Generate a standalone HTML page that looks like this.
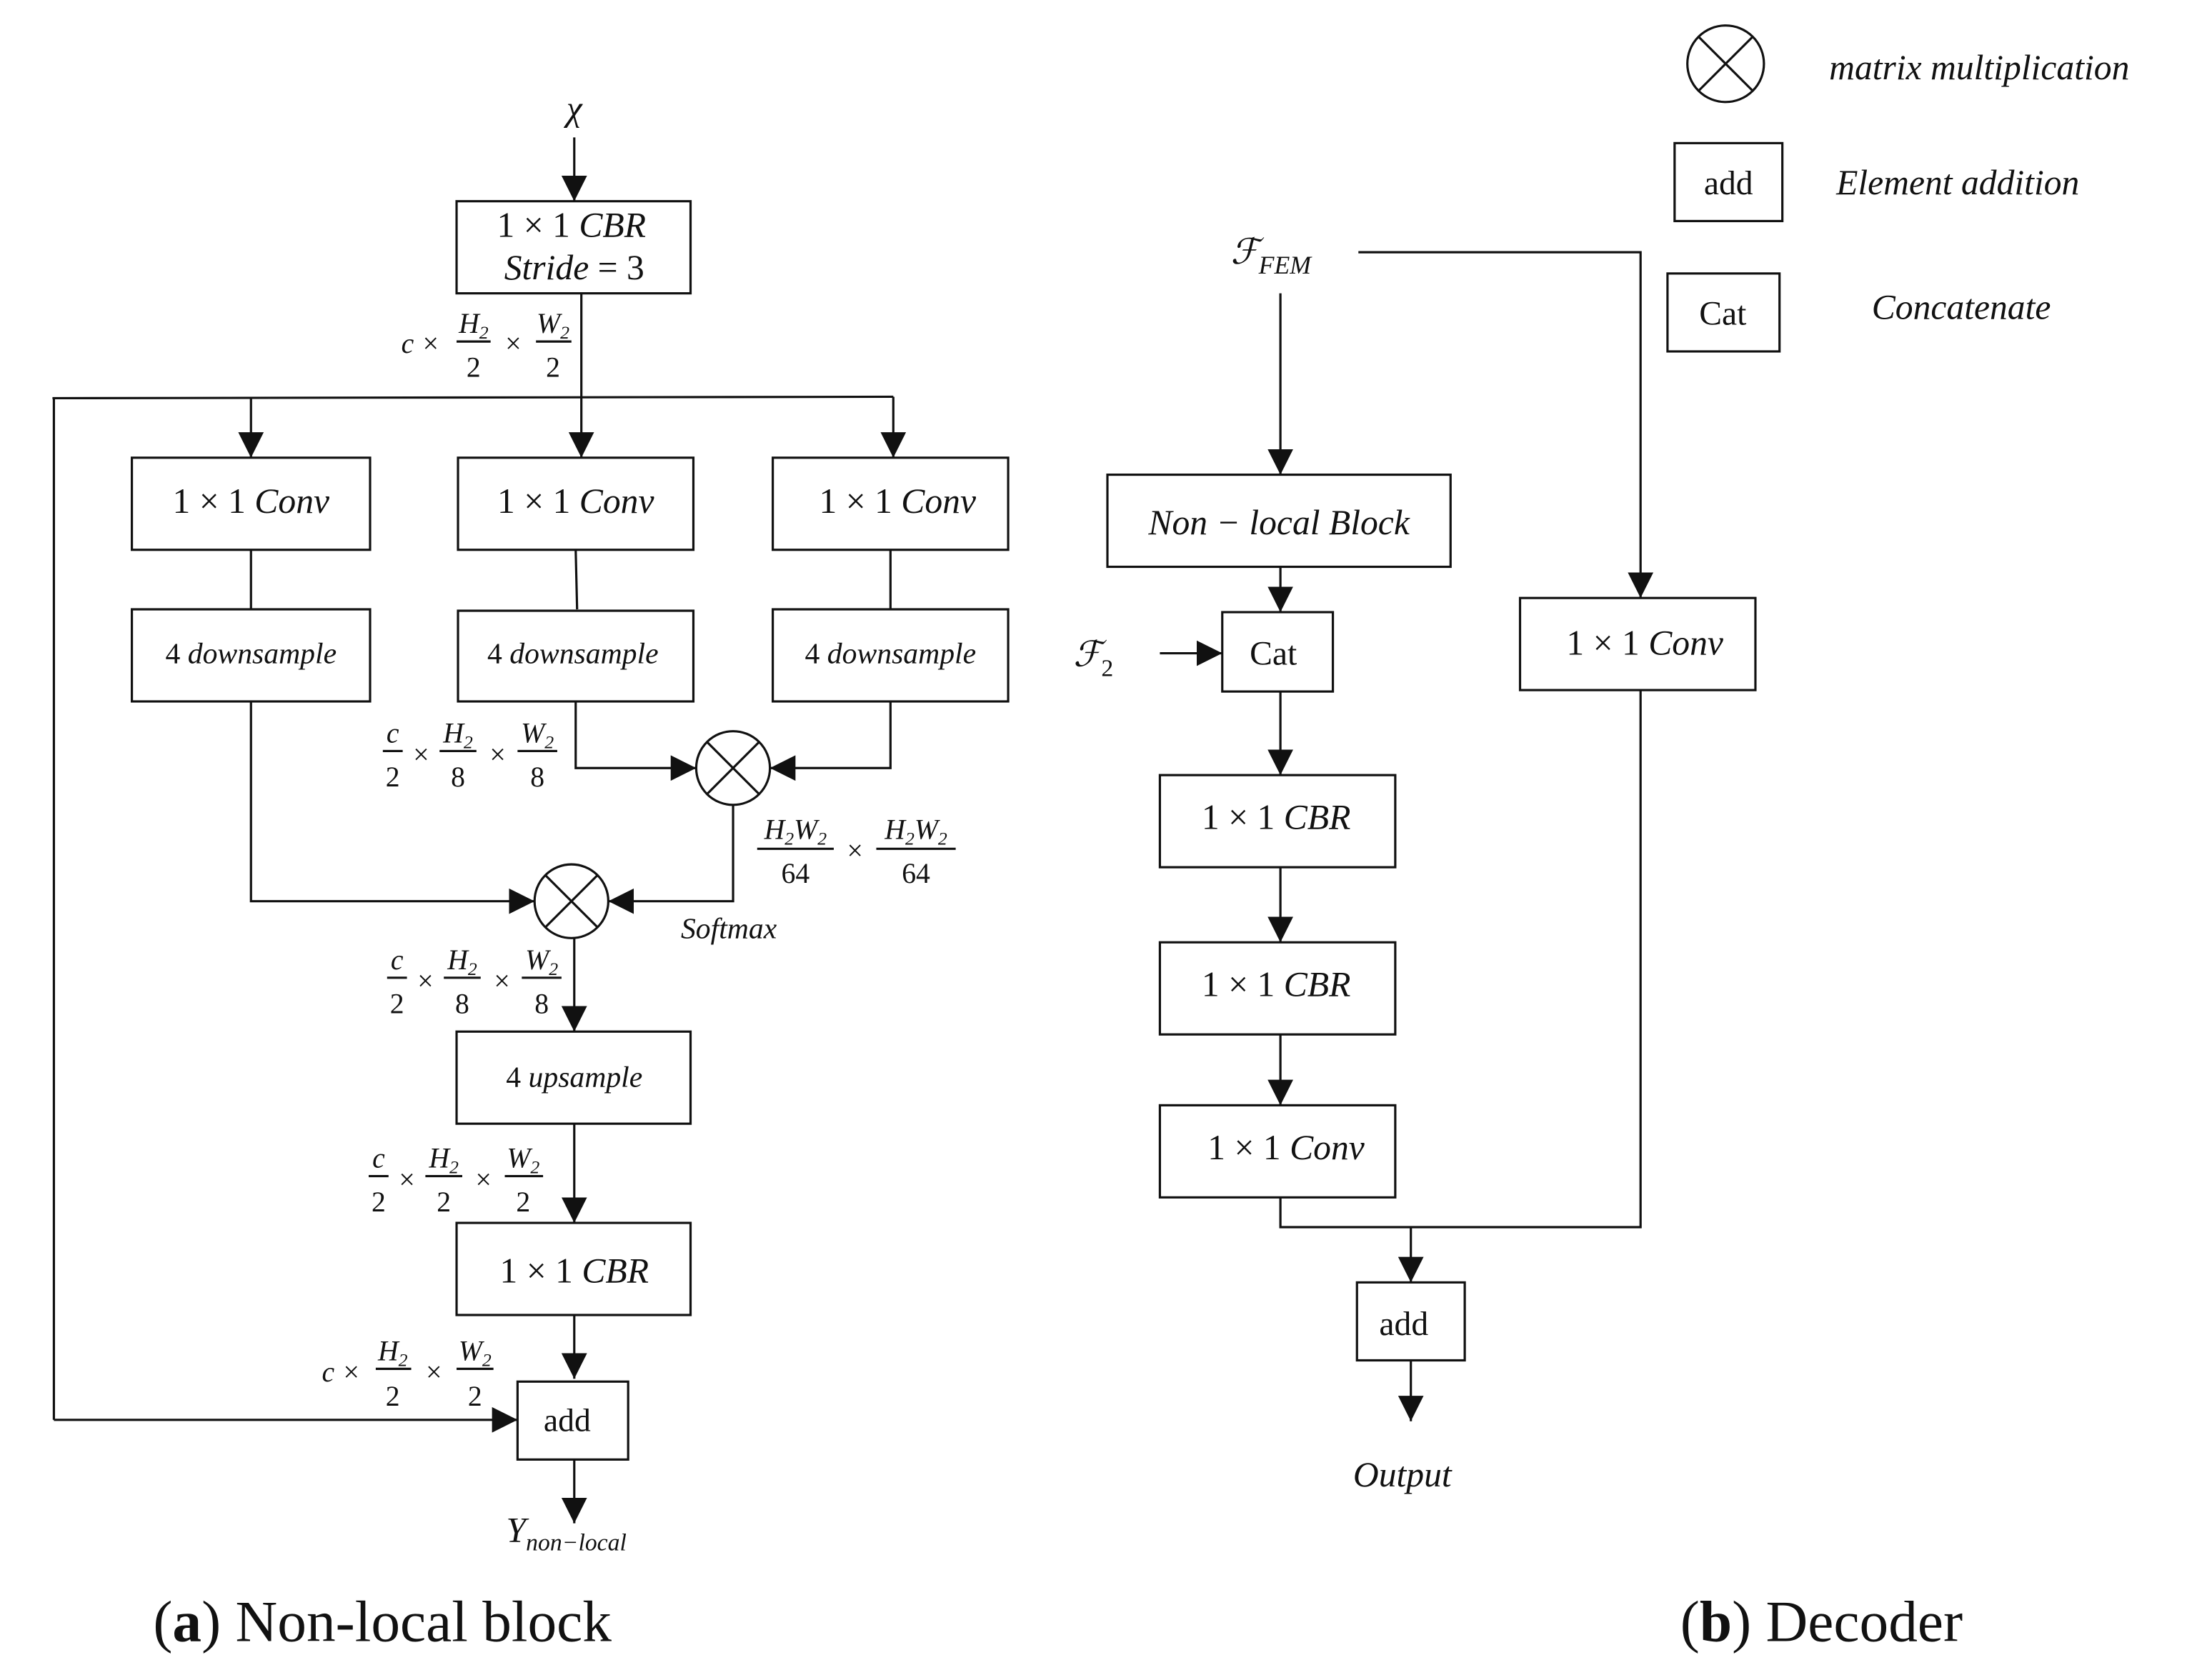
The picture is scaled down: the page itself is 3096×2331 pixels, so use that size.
<!DOCTYPE html>
<html><head><meta charset="utf-8"><style>
html,body{margin:0;padding:0;background:#fff;}
svg{display:block;}
text{font-family:"Liberation Serif",serif;fill:#111;}
.m{font-style:italic;font-size:25px;}
.r{font-size:25px;}
.f{font-style:italic;font-size:20px;}
.fr{font-size:20px;}
</style></head><body>
<svg width="3096" height="2331" viewBox="0 0 1560 1175" preserveAspectRatio="none" xmlns="http://www.w3.org/2000/svg">
<defs>
<marker id="b" viewBox="0 0 10 10" markerWidth="18" markerHeight="18" refX="10" refY="5" orient="auto" markerUnits="userSpaceOnUse"><path d="M0,0 L10,5 L0,10 z" fill="#111"/></marker></defs>
<g stroke="#111" stroke-width="1.6" fill="none">
<line x1="405" y1="97" x2="405" y2="142" marker-end="url(#b)"/>
<rect x="322" y="142" width="165" height="65"/>
<line x1="410" y1="207" x2="410" y2="281"/>
<line x1="37" y1="281" x2="630" y2="280"/>
<line x1="38" y1="281" x2="38" y2="1002"/>
<line x1="38" y1="1002" x2="365" y2="1002" marker-end="url(#b)"/>
<line x1="177" y1="281" x2="177" y2="323" marker-end="url(#b)"/>
<line x1="410" y1="281" x2="410" y2="323" marker-end="url(#b)"/>
<line x1="630" y1="280" x2="630" y2="323" marker-end="url(#b)"/>
<rect x="93" y="323" width="168" height="65"/>
<rect x="323" y="323" width="166" height="65"/>
<rect x="545" y="323" width="166" height="65"/>
<line x1="177" y1="388" x2="177" y2="430"/>
<line x1="406" y1="388" x2="407" y2="430"/>
<line x1="628" y1="388" x2="628" y2="430"/>
<rect x="93" y="430" width="168" height="65"/>
<rect x="323" y="431" width="166" height="64"/>
<rect x="545" y="430" width="166" height="65"/>
<polyline points="406,495 406,542 491,542" marker-end="url(#b)"/>
<polyline points="628,495 628,542 543,542" marker-end="url(#b)"/>
<circle cx="517" cy="542" r="26"/>
<line x1="499" y1="524" x2="535" y2="560"/><line x1="535" y1="524" x2="499" y2="560"/>
<polyline points="517,568 517,636 429,636" marker-end="url(#b)"/>
<polyline points="177,495 177,636 377,636" marker-end="url(#b)"/>
<circle cx="403" cy="636" r="26"/>
<line x1="385" y1="618" x2="421" y2="654"/><line x1="421" y1="618" x2="385" y2="654"/>
<line x1="405" y1="662" x2="405" y2="728" marker-end="url(#b)"/>
<rect x="322" y="728" width="165" height="65"/>
<line x1="405" y1="793" x2="405" y2="863" marker-end="url(#b)"/>
<rect x="322" y="863" width="165" height="65"/>
<line x1="405" y1="928" x2="405" y2="973" marker-end="url(#b)"/>
<rect x="365" y="975" width="78" height="55"/>
<line x1="405" y1="1030" x2="405" y2="1075" marker-end="url(#b)"/>
<circle cx="1217" cy="45" r="27"/>
<line x1="1198" y1="26" x2="1236" y2="64"/><line x1="1236" y1="26" x2="1198" y2="64"/>
<rect x="1181" y="101" width="76" height="55"/>
<rect x="1176" y="193" width="79" height="55"/>
<polyline points="958,178 1157,178 1157,422" marker-end="url(#b)"/>
<line x1="903" y1="207" x2="903" y2="335" marker-end="url(#b)"/>
<rect x="781" y="335" width="242" height="65"/>
<line x1="903" y1="400" x2="903" y2="432" marker-end="url(#b)"/>
<rect x="862" y="432" width="78" height="56"/>
<line x1="818" y1="461" x2="862" y2="461" marker-end="url(#b)"/>
<line x1="903" y1="488" x2="903" y2="547" marker-end="url(#b)"/>
<rect x="818" y="547" width="166" height="65"/>
<line x1="903" y1="612" x2="903" y2="665" marker-end="url(#b)"/>
<rect x="818" y="665" width="166" height="65"/>
<line x1="903" y1="730" x2="903" y2="780" marker-end="url(#b)"/>
<rect x="818" y="780" width="166" height="65"/>
<rect x="1072" y="422" width="166" height="65"/>
<polyline points="903,845 903,866 1157,866 1157,487"/>
<line x1="995" y1="866" x2="995" y2="905" marker-end="url(#b)"/>
<rect x="957" y="905" width="76" height="55"/>
<line x1="995" y1="960" x2="995" y2="1003" marker-end="url(#b)"/>
<line x1="322" y1="241" x2="346" y2="241"/><line x1="378" y1="241" x2="403" y2="241"/>
<line x1="270" y1="530" x2="284" y2="530"/><line x1="310" y1="530" x2="336" y2="530"/><line x1="365" y1="530" x2="393" y2="530"/>
<line x1="534" y1="599" x2="588" y2="599"/><line x1="618" y1="599" x2="674" y2="599"/>
<line x1="273" y1="690" x2="287" y2="690"/><line x1="313" y1="690" x2="339" y2="690"/><line x1="368" y1="690" x2="396" y2="690"/>
<line x1="260" y1="830" x2="274" y2="830"/><line x1="300" y1="830" x2="326" y2="830"/><line x1="356" y1="830" x2="383" y2="830"/>
<line x1="265" y1="966" x2="290" y2="966"/><line x1="322" y1="966" x2="348" y2="966"/>
</g>
<text class="m" x="405" y="85" text-anchor="middle" font-size="28">χ</text>
<text class="r" x="403" y="167" text-anchor="middle">1 × 1 <tspan font-style="italic">CBR</tspan></text>
<text class="m" x="405" y="197" text-anchor="middle">Stride <tspan font-style="normal">= 3</tspan></text>
<text class="f" x="283" y="249">c ×</text>
<text class="f" x="334" y="235" text-anchor="middle">H<tspan font-size="13" dy="4">2</tspan></text>
<text class="fr" x="334" y="266" text-anchor="middle">2</text>
<text class="fr" x="362" y="249" text-anchor="middle">×</text>
<text class="f" x="390" y="235" text-anchor="middle">W<tspan font-size="13" dy="4">2</tspan></text>
<text class="fr" x="390" y="266" text-anchor="middle">2</text>
<text class="r" x="177" y="362" text-anchor="middle">1 × 1 <tspan font-style="italic">Conv</tspan></text>
<text class="r" x="406" y="362" text-anchor="middle">1 × 1 <tspan font-style="italic">Conv</tspan></text>
<text class="r" x="633" y="362" text-anchor="middle">1 × 1 <tspan font-style="italic">Conv</tspan></text>
<text x="177" y="468" text-anchor="middle" font-size="21">4 <tspan font-style="italic">downsample</tspan></text>
<text x="404" y="468" text-anchor="middle" font-size="21">4 <tspan font-style="italic">downsample</tspan></text>
<text x="628" y="468" text-anchor="middle" font-size="21">4 <tspan font-style="italic">downsample</tspan></text>
<text class="f" x="277" y="524" text-anchor="middle">c</text><text class="fr" x="277" y="555" text-anchor="middle">2</text>
<text class="fr" x="297" y="539" text-anchor="middle">×</text>
<text class="f" x="323" y="524" text-anchor="middle">H<tspan font-size="13" dy="4">2</tspan></text><text class="fr" x="323" y="555" text-anchor="middle">8</text>
<text class="fr" x="351" y="539" text-anchor="middle">×</text>
<text class="f" x="379" y="524" text-anchor="middle">W<tspan font-size="13" dy="4">2</tspan></text><text class="fr" x="379" y="555" text-anchor="middle">8</text>
<text class="f" x="561" y="592" text-anchor="middle">H<tspan font-size="13" dy="4">2</tspan><tspan dy="-4">W</tspan><tspan font-size="13" dy="4">2</tspan></text>
<text class="fr" x="561" y="623" text-anchor="middle">64</text>
<text class="fr" x="603" y="607" text-anchor="middle">×</text>
<text class="f" x="646" y="592" text-anchor="middle">H<tspan font-size="13" dy="4">2</tspan><tspan dy="-4">W</tspan><tspan font-size="13" dy="4">2</tspan></text>
<text class="fr" x="646" y="623" text-anchor="middle">64</text>
<text x="514" y="662" text-anchor="middle" font-size="21" font-style="italic">Softmax</text>
<text class="f" x="280" y="684" text-anchor="middle">c</text><text class="fr" x="280" y="715" text-anchor="middle">2</text>
<text class="fr" x="300" y="699" text-anchor="middle">×</text>
<text class="f" x="326" y="684" text-anchor="middle">H<tspan font-size="13" dy="4">2</tspan></text><text class="fr" x="326" y="715" text-anchor="middle">8</text>
<text class="fr" x="354" y="699" text-anchor="middle">×</text>
<text class="f" x="382" y="684" text-anchor="middle">W<tspan font-size="13" dy="4">2</tspan></text><text class="fr" x="382" y="715" text-anchor="middle">8</text>
<text x="405" y="767" text-anchor="middle" font-size="21">4 <tspan font-style="italic">upsample</tspan></text>
<text class="f" x="267" y="824" text-anchor="middle">c</text><text class="fr" x="267" y="855" text-anchor="middle">2</text>
<text class="fr" x="287" y="839" text-anchor="middle">×</text>
<text class="f" x="313" y="824" text-anchor="middle">H<tspan font-size="13" dy="4">2</tspan></text><text class="fr" x="313" y="855" text-anchor="middle">2</text>
<text class="fr" x="341" y="839" text-anchor="middle">×</text>
<text class="f" x="369" y="824" text-anchor="middle">W<tspan font-size="13" dy="4">2</tspan></text><text class="fr" x="369" y="855" text-anchor="middle">2</text>
<text class="r" x="405" y="905" text-anchor="middle">1 × 1 <tspan font-style="italic">CBR</tspan></text>
<text class="f" x="227" y="975">c ×</text>
<text class="f" x="277" y="960" text-anchor="middle">H<tspan font-size="13" dy="4">2</tspan></text><text class="fr" x="277" y="992" text-anchor="middle">2</text>
<text class="fr" x="306" y="975" text-anchor="middle">×</text>
<text class="f" x="335" y="960" text-anchor="middle">W<tspan font-size="13" dy="4">2</tspan></text><text class="fr" x="335" y="992" text-anchor="middle">2</text>
<text x="400" y="1010" text-anchor="middle" font-size="23">add</text>
<text class="m" x="357" y="1088">Y<tspan font-size="17" dy="6">non−local</tspan></text>
<text x="108" y="1158" font-size="41">(<tspan font-weight="bold">a</tspan>) Non-local block</text>
<text class="m" x="1290" y="56">matrix multiplication</text>
<text x="1219" y="137" text-anchor="middle" font-size="24">add</text>
<text class="m" x="1295" y="137">Element addition</text>
<text x="1215" y="229" text-anchor="middle" font-size="24">Cat</text>
<text class="m" x="1320" y="225">Concatenate</text>
<text class="m" x="868" y="186" font-size="28">ℱ<tspan font-size="18" dy="7">FEM</tspan></text>
<text class="m" x="902" y="377" text-anchor="middle">Non − local Block</text>
<text x="898" y="469" text-anchor="middle" font-size="24">Cat</text>
<text class="m" x="757" y="470" font-size="28">ℱ<tspan font-size="17" dy="7" font-style="normal">2</tspan></text>
<text class="r" x="900" y="585" text-anchor="middle">1 × 1 <tspan font-style="italic">CBR</tspan></text>
<text class="r" x="900" y="703" text-anchor="middle">1 × 1 <tspan font-style="italic">CBR</tspan></text>
<text class="r" x="907" y="818" text-anchor="middle">1 × 1 <tspan font-style="italic">Conv</tspan></text>
<text class="r" x="1160" y="462" text-anchor="middle">1 × 1 <tspan font-style="italic">Conv</tspan></text>
<text x="990" y="942" text-anchor="middle" font-size="24">add</text>
<text class="m" x="989" y="1049" text-anchor="middle">Output</text>
<text x="1185" y="1158" font-size="41">(<tspan font-weight="bold">b</tspan>) Decoder</text>
</svg>
</body></html>
